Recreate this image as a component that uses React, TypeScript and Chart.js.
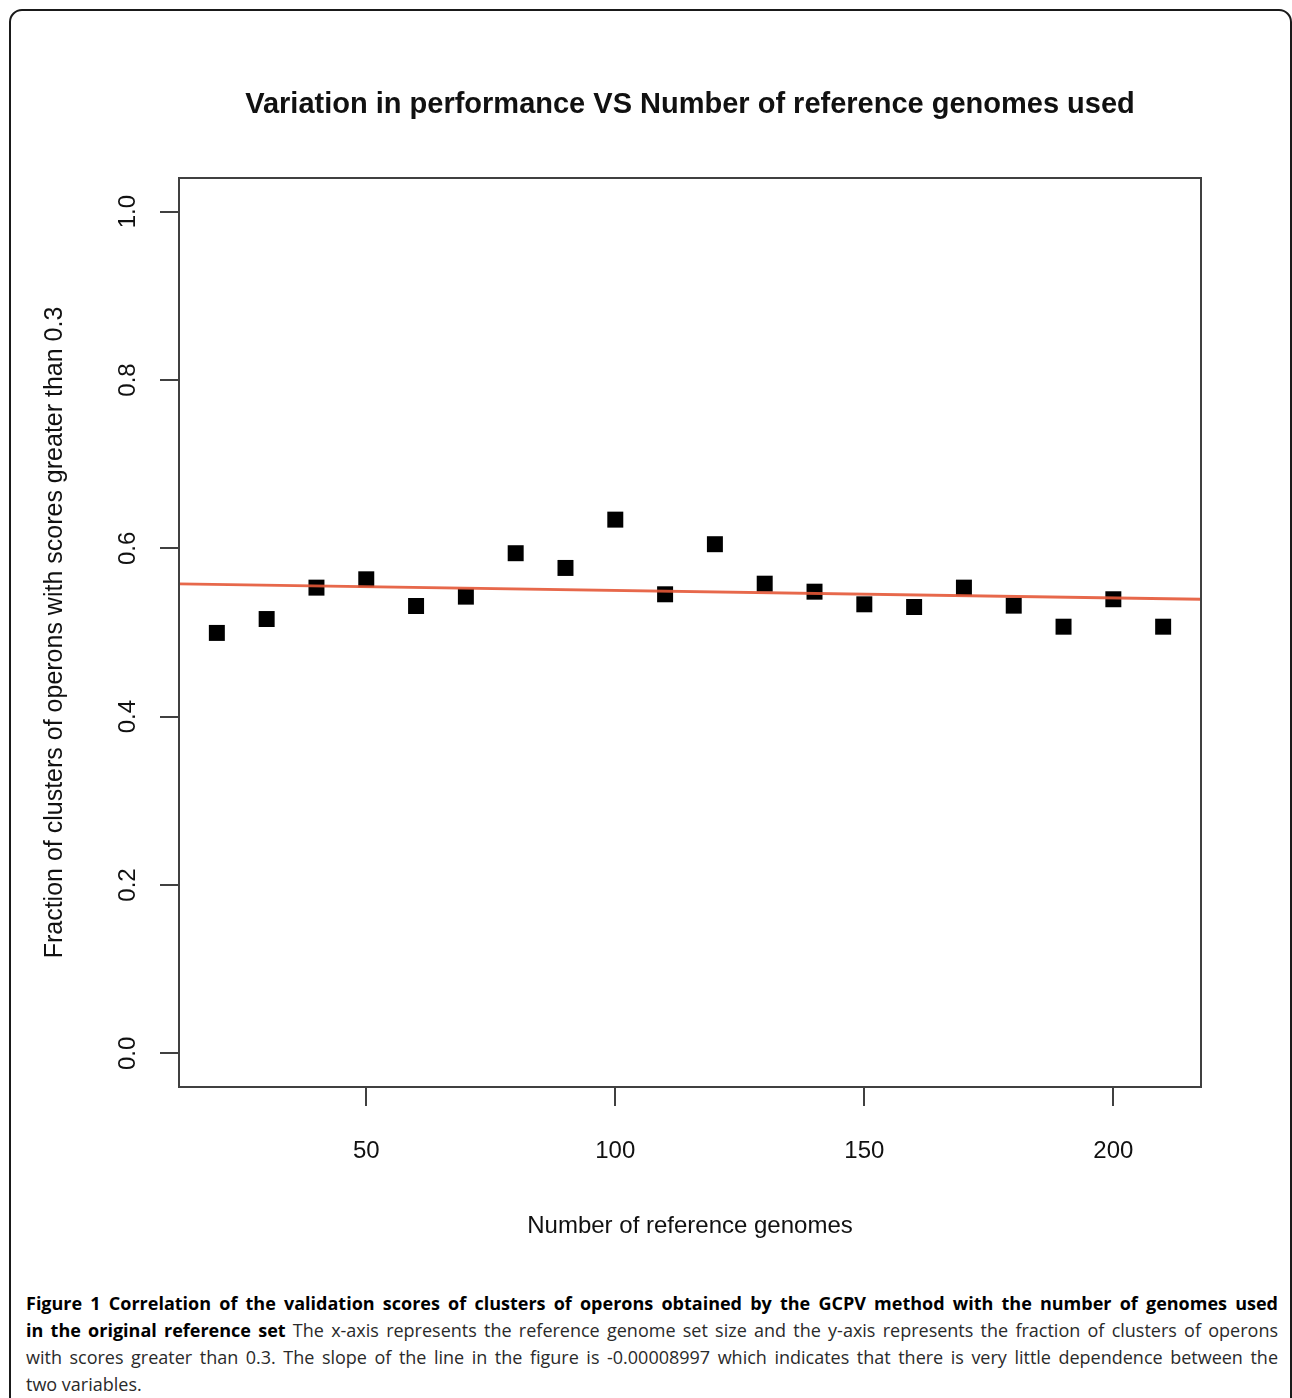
import React, { useEffect, useRef } from "react";
import { Chart, registerables } from "chart.js";

Chart.register(...registerables);

// ---- data ----
const genomeCounts = [20, 30, 40, 50, 60, 70, 80, 90, 100, 110, 120, 130, 140, 150, 160, 170, 180, 190, 200, 210];
const fractionValues = [
  0.4995, 0.516, 0.5533, 0.5632, 0.5315, 0.5426, 0.5942, 0.5767, 0.6341, 0.5454,
  0.6049, 0.558, 0.5485, 0.5335, 0.5303, 0.5533, 0.5319, 0.5069, 0.5395, 0.5069,
];
const fitLineX = [12.4, 217.6];
const fitLineY = [0.5577, 0.5395];
const xTicks = [50, 100, 150, 200];
const yTicks = [0, 0.2, 0.4, 0.6, 0.8, 1.0];
const yTickLabels = ["0.0", "0.2", "0.4", "0.6", "0.8", "1.0"];
const xLimits = [12.4, 217.6];
const yLimits = [-0.04, 1.04];

const chartTitle = "Variation in performance VS Number of reference genomes used";
const xTitle = "Number of reference genomes";
const yTitle = "Fraction of clusters of operons with scores greater than 0.3";

const FONT = "'Liberation Sans', Arial, Helvetica, sans-serif";

const boxPlugin = {
  id: "rbox",
  afterDraw(chart: any) {
    const { ctx, chartArea } = chart;
    ctx.save();
    ctx.strokeStyle = "#404040";
    ctx.lineWidth = 2;
    ctx.strokeRect(chartArea.left, chartArea.top, chartArea.right - chartArea.left, chartArea.bottom - chartArea.top);
    // rotated y tick labels (R style)
    const ys = chart.scales.y;
    ctx.fillStyle = "#111";
    ctx.font = `24px ${FONT}`;
    ctx.textAlign = "center";
    ctx.textBaseline = "middle";
    yTicks.forEach((v, i) => {
      const py = ys.getPixelForValue(v);
      ctx.save();
      ctx.translate(128, py);
      ctx.rotate(-Math.PI / 2);
      ctx.fillText(yTickLabels[i], 0, 0);
      ctx.restore();
    });
    ctx.restore();
  },
};

function ScatterChart() {
  const ref = useRef<HTMLCanvasElement | null>(null);
  useEffect(() => {
    if (!ref.current) return;
    const chart = new Chart(ref.current, {
      type: "scatter",
      data: {
        datasets: [
          {
            type: "line",
            data: fitLineX.map((x, i) => ({ x, y: fitLineY[i] })),
            borderColor: "rgba(228,88,55,0.9)",
            borderWidth: 2.8,
            pointRadius: 0,
            showLine: true,
            fill: false,
          } as any,
          {
            data: genomeCounts.map((x, i) => ({ x, y: fractionValues[i] })),
            backgroundColor: "#000",
            borderWidth: 0,
            pointStyle: "rect",
            pointRadius: 11.3,
            pointHoverRadius: 11.3,
          },
        ],
      },
      options: {
        animation: false,
        responsive: false,
        devicePixelRatio: 1,
        events: [],
        layout: { padding: { left: 39, right: 91, top: 0, bottom: 20 } },
        plugins: {
          legend: { display: false },
          tooltip: { enabled: false },
          title: {
            display: true,
            text: chartTitle,
            fullSize: false,
            color: "#111",
            font: { family: FONT, size: 29, weight: "bold" },
            padding: { top: 87.6, bottom: 55.6 },
          },
        },
        scales: {
          x: {
            type: "linear",
            min: xLimits[0],
            max: xLimits[1],
            afterBuildTicks: (s: any) => {
              s.ticks = xTicks.map((v) => ({ value: v }));
            },
            afterFit: (s: any) => {
              s.height = 163;
            },
            grid: { drawOnChartArea: false, drawTicks: true, tickLength: 19, color: "#404040", lineWidth: 2 },
            border: { display: false },
            ticks: {
              color: "#111",
              font: { family: FONT, size: 24 },
              padding: 31,
              maxRotation: 0,
              callback: (v: any) => String(v),
            },
            title: {
              display: true,
              text: xTitle,
              color: "#111",
              font: { family: FONT, size: 24 },
              padding: { top: 0, bottom: 9.6 },
            },
          },
          y: {
            type: "linear",
            min: yLimits[0],
            max: yLimits[1],
            afterBuildTicks: (s: any) => {
              s.ticks = yTicks.map((v) => ({ value: v }));
            },
            afterFit: (s: any) => {
              s.width = 140;
            },
            grid: { drawOnChartArea: false, drawTicks: true, tickLength: 19, color: "#404040", lineWidth: 2 },
            border: { display: false },
            ticks: { color: "rgba(0,0,0,0)", font: { family: FONT, size: 22 } },
            title: {
              display: true,
              text: yTitle,
              color: "#111",
              font: { family: FONT, size: 25 },
              padding: { top: 1, bottom: 0 },
            },
          },
        },
      },
      plugins: [boxPlugin],
    });
    return () => chart.destroy();
  }, []);
  return <canvas ref={ref} width={1292} height={1270} style={{ position: "absolute", left: 0, top: 0 }} />;
}

const captionLines: { bold: string; normal: string; last?: boolean }[] = [
  { bold: "Figure 1 Correlation of the validation scores of clusters of operons obtained by the GCPV method with the number of genomes used", normal: "" },
  { bold: "in the original reference set", normal: " The x-axis represents the reference genome set size and the y-axis represents the fraction of clusters of operons" },
  { bold: "", normal: "with scores greater than 0.3. The slope of the line in the figure is -0.00008997 which indicates that there is very little dependence between the" },
  { bold: "", normal: "two variables.", last: true },
];

export default function App() {
  return (
    <div style={{ position: "absolute", left: 0, top: 0, width: 1292, height: 1398, overflow: "hidden", background: "#fff" }}>
      <div
        style={{
          position: "absolute",
          left: 9,
          top: 9,
          width: 1283,
          height: 1500,
          boxSizing: "border-box",
          border: "2px solid #1a1a1a",
          borderRadius: 13,
        }}
      />
      <ScatterChart />
      <div
        style={{
          position: "absolute",
          left: 26,
          top: 1290,
          width: 1252,
          fontFamily: "'Open Sans', sans-serif",
          fontSize: 18,
          lineHeight: "27px",
          color: "#2a2a2a",
        }}
      >
        {captionLines.map((l, i) => (
          <div
            key={i}
            style={{
              whiteSpace: "nowrap",
              textAlign: l.last ? "left" : "justify",
              textAlignLast: l.last ? "left" : "justify",
            }}
          >
            {l.bold && <b style={{ color: "#000", fontWeight: 700 }}>{l.bold}</b>}
            {l.normal}
          </div>
        ))}
      </div>
    </div>
  );
}
